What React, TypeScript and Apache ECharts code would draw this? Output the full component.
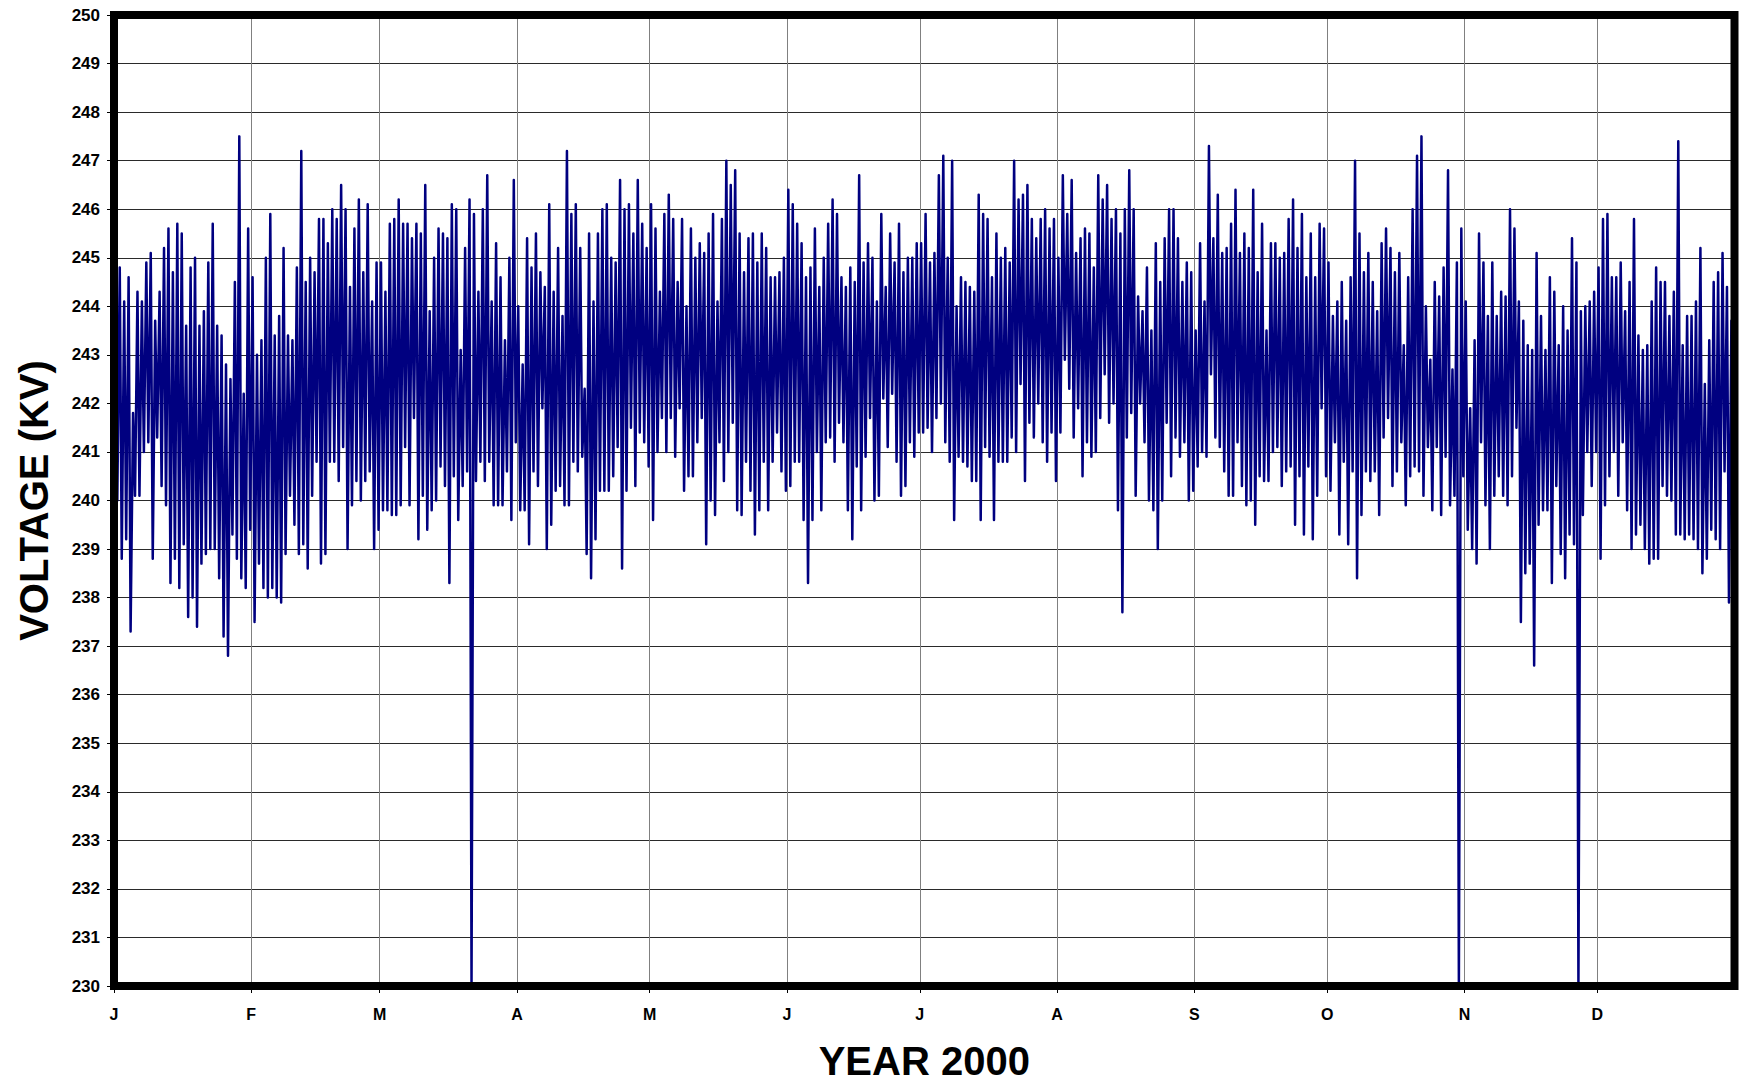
import { useEffect, useRef } from 'react';
import * as echarts from 'echarts';

// Month initials shown on the x axis
const monthLetters = ['J', 'F', 'M', 'A', 'M', 'J', 'J', 'A', 'S', 'O', 'N', 'D'];

// Daily high / low voltage readings (kV), by date range
// Days 0-86 (1 Jan - 27 Mar)
const highsJanMar = [
  244.8, 244.8, 244.1, 244.6, 241.8, 244.3, 244.1, 244.9, 245.1, 243.7,
  244.3, 245.2, 245.6, 244.7, 245.7, 245.5, 243.6, 244.8, 245.0, 243.6,
  243.9, 244.9, 245.7, 243.6, 243.4, 242.8, 242.5, 244.5, 247.5, 242.2,
  245.6, 244.6, 243.0, 243.3, 245.0, 245.9, 243.4, 243.8, 245.2, 243.4,
  243.3, 244.8, 247.2, 244.5, 245.0, 244.7, 245.8, 245.8, 245.3, 246.0,
  245.8, 246.5, 246.0, 244.4, 245.6, 246.2, 244.7, 246.1, 244.1, 244.9,
  244.9, 244.3, 245.7, 245.8, 246.2, 245.7, 245.7, 245.4, 245.7, 245.5,
  246.5, 243.9, 245.0, 245.6, 245.5, 245.4, 246.1, 246.0, 243.1, 245.2,
  246.2, 245.9, 244.3, 246.0, 246.7, 244.1, 245.3,
];
const lowsJanMar = [
  240.0, 238.8, 239.2, 237.3, 240.1, 240.1, 241.0, 241.2, 238.8, 241.3,
  240.3, 239.9, 238.3, 238.8, 238.2, 239.1, 237.6, 238.0, 237.4, 238.7,
  238.9, 239.0, 239.0, 238.4, 237.2, 236.8, 239.3, 238.8, 238.4, 238.2,
  239.4, 237.5, 238.7, 238.2, 238.0, 238.2, 238.0, 237.9, 238.9, 240.1,
  239.5, 238.9, 239.1, 238.6, 240.1, 240.8, 238.7, 238.9, 240.8, 240.8,
  240.4, 241.1, 239.0, 239.9, 240.4, 240.0, 240.4, 240.6, 239.0, 239.4,
  239.8, 239.8, 239.7, 239.7, 239.9, 241.1, 239.9, 241.7, 239.2, 240.1,
  239.4, 239.8, 240.0, 240.7, 240.3, 238.3, 240.5, 239.6, 240.3, 240.6,
  230.0, 240.4, 240.8, 240.4, 240.8, 239.9, 239.9,
];
// Days 87-154 (28 Mar - 3 Jun)
const highsMarJun = [
  244.6, 243.3, 245.0, 246.6, 244.0, 242.8, 245.4, 244.8, 245.5, 244.7,
  244.4, 246.1, 244.3, 245.2, 243.8, 247.2, 245.9, 246.1, 245.2, 242.3,
  245.5, 244.1, 245.5, 246.0, 246.1, 245.0, 244.9, 246.6, 246.0, 246.1,
  245.5, 246.6, 245.7, 245.2, 246.1, 245.6, 244.3, 245.9, 246.3, 245.8,
  244.5, 245.8, 244.0, 245.6, 245.0, 245.3, 245.1, 245.5, 245.9, 244.1,
  245.8, 247.0, 246.5, 246.8, 245.5, 244.7, 245.4, 245.5, 244.9, 245.5,
  245.2, 244.6, 244.6, 244.7, 245.0, 246.4, 246.1, 245.7,
];
const lowsMarJun = [
  239.9, 240.6, 239.6, 241.2, 239.8, 239.8, 239.1, 240.6, 240.3, 241.9,
  239.0, 239.5, 240.2, 240.3, 239.9, 239.9, 240.8, 240.6, 240.9, 238.9,
  238.4, 239.2, 240.2, 240.2, 240.2, 240.5, 241.1, 238.6, 240.2, 241.5,
  240.3, 241.4, 241.2, 240.7, 239.6, 241.0, 241.7, 241.0, 241.7, 240.9,
  241.9, 240.2, 240.5, 240.5, 241.2, 241.7, 239.1, 240.0, 239.7, 241.2,
  240.4, 241.0, 241.6, 239.8, 239.7, 240.8, 240.2, 239.3, 239.8, 240.8,
  239.8, 240.8, 241.4, 240.6, 240.2, 240.3, 240.8, 240.8,
];
// Days 155-195 (4 Jun - 14 Jul)
const highsJunJul = [
  245.3, 244.6, 244.8, 245.6, 244.4, 245.0, 245.7, 246.2, 245.9, 244.6,
  244.4, 244.8, 244.5, 246.7, 244.9, 245.3, 245.0, 244.1, 245.9, 244.4,
  245.5, 244.9, 245.7, 244.7, 245.0, 245.0, 245.3, 245.3, 245.9, 244.9,
  245.1, 246.7, 247.1, 245.0, 247.0, 244.0, 244.6, 244.5, 244.4, 244.3,
  246.3,
];
const lowsJunJul = [
  239.6, 238.3, 239.6, 241.0, 239.8, 241.2, 241.3, 240.8, 241.6, 241.2,
  239.8, 239.2, 240.7, 239.8, 240.9, 241.7, 240.0, 240.1, 242.1, 241.1,
  242.2, 240.8, 240.1, 240.3, 241.2, 240.9, 241.4, 241.4, 241.5, 241.0,
  241.7, 242.0, 241.2, 240.8, 239.6, 240.9, 240.8, 240.7, 240.4, 240.4,
  239.6,
];
// Days 196-238 (15 Jul - 26 Aug)
const highsJulAug = [
  245.9, 245.8, 244.6, 245.5, 245.0, 245.2, 244.9, 247.0, 246.2, 246.3,
  246.5, 245.8, 245.4, 245.8, 246.0, 245.6, 245.8, 245.0, 246.7, 245.9,
  246.6, 245.1, 245.4, 245.6, 245.5, 244.8, 246.7, 246.2, 246.5, 245.8,
  246.0, 245.5, 246.0, 246.8, 246.0, 244.2, 243.9, 244.8, 243.5, 245.3,
  244.5, 245.4, 246.0,
];
const lowsJulAug = [
  241.1, 240.9, 239.6, 240.8, 240.8, 240.8, 241.3, 241.0, 242.4, 240.4,
  241.6, 241.3, 242.0, 241.2, 240.8, 241.4, 240.4, 241.4, 242.9, 242.3,
  241.3, 241.9, 240.5, 241.2, 240.9, 241.0, 241.7, 242.6, 241.6, 242.0,
  239.8, 237.7, 241.3, 241.8, 240.1, 242.0, 241.2, 240.0, 239.8, 239.0,
  240.0, 241.6, 240.5,
];
// Days 239-280 (27 Aug - 7 Oct)
const highsAugOct = [
  246.0, 245.4, 244.5, 244.9, 244.7, 243.5, 245.3, 244.1, 247.3, 245.4,
  246.3, 245.1, 245.2, 245.7, 246.4, 245.1, 245.5, 245.2, 246.4, 244.7,
  245.7, 243.5, 245.3, 245.3, 245.0, 245.1, 245.8, 246.2, 245.2, 245.9,
  244.6, 245.5, 244.6, 245.7, 245.6, 244.9, 243.8, 244.1, 244.5, 243.7,
  244.6, 247.0,
];
const lowsAugOct = [
  241.3, 240.9, 241.2, 240.0, 240.2, 240.7, 241.0, 240.9, 242.6, 241.3,
  241.1, 240.6, 240.1, 240.1, 241.2, 240.3, 239.9, 240.0, 239.5, 240.5,
  240.4, 240.4, 241.0, 241.1, 240.3, 240.6, 240.7, 239.5, 240.5, 239.3,
  240.7, 239.2, 240.1, 241.9, 240.5, 240.2, 241.2, 239.3, 240.8, 239.1,
  240.6, 238.4,
];
// Days 281-323 (8 Oct - 19 Nov)
const highsOctNov = [
  245.5, 244.7, 245.1, 244.5, 243.9, 245.3, 245.6, 245.2, 244.7, 245.1,
  243.2, 244.6, 246.0, 247.1, 247.5, 244.0, 242.9, 244.5, 244.2, 244.8,
  246.8, 242.7, 244.9, 245.6, 244.1, 241.9, 243.3, 245.5, 244.9, 243.8,
  244.9, 243.8, 244.3, 244.2, 246.0, 245.6, 244.1, 243.7, 243.2, 243.1,
  245.1, 243.8, 243.1,
];
const lowsOctNov = [
  239.7, 240.6, 240.4, 240.6, 239.7, 241.3, 241.7, 240.3, 240.6, 241.2,
  239.9, 240.5, 240.7, 240.6, 240.1, 241.1, 239.8, 241.1, 239.7, 240.9,
  239.9, 240.1, 230.0, 240.5, 239.4, 239.0, 238.7, 241.2, 239.9, 239.0,
  240.1, 240.5, 240.1, 239.9, 240.5, 241.5, 237.5, 238.5, 238.7, 236.6,
  239.5, 239.8, 239.8,
];
// Days 324-365 (20 Nov - 31 Dec)
const highsNovDec = [
  244.6, 244.3, 243.2, 244.0, 243.5, 245.4, 244.9, 243.9, 244.0, 244.1,
  244.3, 244.8, 245.8, 245.9, 244.6, 244.6, 244.9, 243.9, 244.5, 245.8,
  243.4, 243.1, 243.2, 244.1, 244.8, 244.5, 244.5, 243.8, 244.3, 247.4,
  243.2, 243.8, 243.8, 244.1, 245.2, 242.4, 243.3, 244.5, 244.7, 245.1,
  244.4, 243.7,
];
const lowsNovDec = [
  238.3, 240.3, 238.9, 238.4, 239.3, 239.1, 230.0, 239.7, 241.0, 240.3,
  241.0, 238.8, 239.9, 240.5, 241.0, 240.1, 241.2, 239.8, 239.0, 239.3,
  239.5, 239.0, 238.7, 238.8, 238.8, 240.3, 240.1, 240.0, 239.3, 239.3,
  239.2, 239.3, 239.2, 239.0, 238.5, 238.8, 239.4, 239.2, 239.0, 240.6,
  237.9, 239.3,
];

const dailyHighs = [
  ...highsJanMar, ...highsMarJun, ...highsJunJul, ...highsJulAug,
  ...highsAugOct, ...highsOctNov, ...highsNovDec,
];
const dailyLows = [
  ...lowsJanMar, ...lowsMarJun, ...lowsJunJul, ...lowsJulAug,
  ...lowsAugOct, ...lowsOctNov, ...lowsNovDec,
];

const FONT = '"Liberation Sans", Arial, Helvetica, sans-serif';

export default function App() {
  const ref = useRef<HTMLDivElement>(null);

  useEffect(() => {
    if (!ref.current) return;
    const chart = echarts.init(ref.current, null, { renderer: 'svg' });
    const DAY = 86400000;
    const start = new Date(2000, 0, 1).getTime();
    const end = new Date(2001, 0, 1).getTime();
    const data: [number, number][] = [];
    for (let d = 0; d < dailyHighs.length; d++) {
      data.push([start + (d + 0.3) * DAY, dailyHighs[d]]);
      data.push([start + (d + 0.75) * DAY, dailyLows[d]]);
    }

    chart.setOption({
      animation: false,
      backgroundColor: '#ffffff',
      textStyle: { fontFamily: FONT },
      grid: {
        left: 114,
        right: 6.5,
        top: 15,
        bottom: 100,
        show: true,
        borderColor: '#000000',
        borderWidth: 8,
        backgroundColor: 'transparent',
        z: 10,
      },
      xAxis: {
        type: 'time',
        min: start,
        max: end,
        splitNumber: 12,
        axisLine: { show: false },
        axisTick: { show: true, length: 7, lineStyle: { color: '#000', width: 1 } },
        axisLabel: {
          formatter: (v: number) => {
            const dt = new Date(v);
            return dt.getFullYear() === 2000 ? monthLetters[dt.getMonth()] : '';
          },
          fontFamily: FONT,
          fontSize: 16,
          fontWeight: 'bold',
          color: '#000',
          margin: 20,
          hideOverlap: false,
        },
        splitLine: { show: true, lineStyle: { color: '#808080', width: 1 } },
        name: 'YEAR 2000',
        nameLocation: 'middle',
        nameGap: 55,
        nameTextStyle: { fontFamily: FONT, fontSize: 40, fontWeight: 'bold', color: '#000' },
      },
      yAxis: {
        type: 'value',
        min: 230,
        max: 250,
        interval: 1,
        axisLine: { show: false },
        axisTick: { show: true, length: 7, lineStyle: { color: '#000', width: 1 } },
        axisLabel: {
          fontFamily: FONT,
          fontSize: 17,
          fontWeight: 'bold',
          color: '#000',
          margin: 14,
        },
        splitLine: { show: true, lineStyle: { color: '#2a2a2a', width: 1 } },
        name: 'VOLTAGE (KV)',
        nameLocation: 'middle',
        nameGap: 60,
        nameTextStyle: { fontFamily: FONT, fontSize: 40, fontWeight: 'bold', color: '#000' },
      },
      series: [
        {
          type: 'line',
          data,
          symbol: 'none',
          showSymbol: false,
          clip: true,
          silent: true,
          lineStyle: { color: '#000080', width: 2.5, join: 'round', cap: 'round' },
        },
      ],
    });

    return () => chart.dispose();
  }, []);

  return (
    <div
      ref={ref}
      style={{ position: 'fixed', left: 0, top: 0, width: '1741px', height: '1086px', background: '#fff' }}
    />
  );
}
